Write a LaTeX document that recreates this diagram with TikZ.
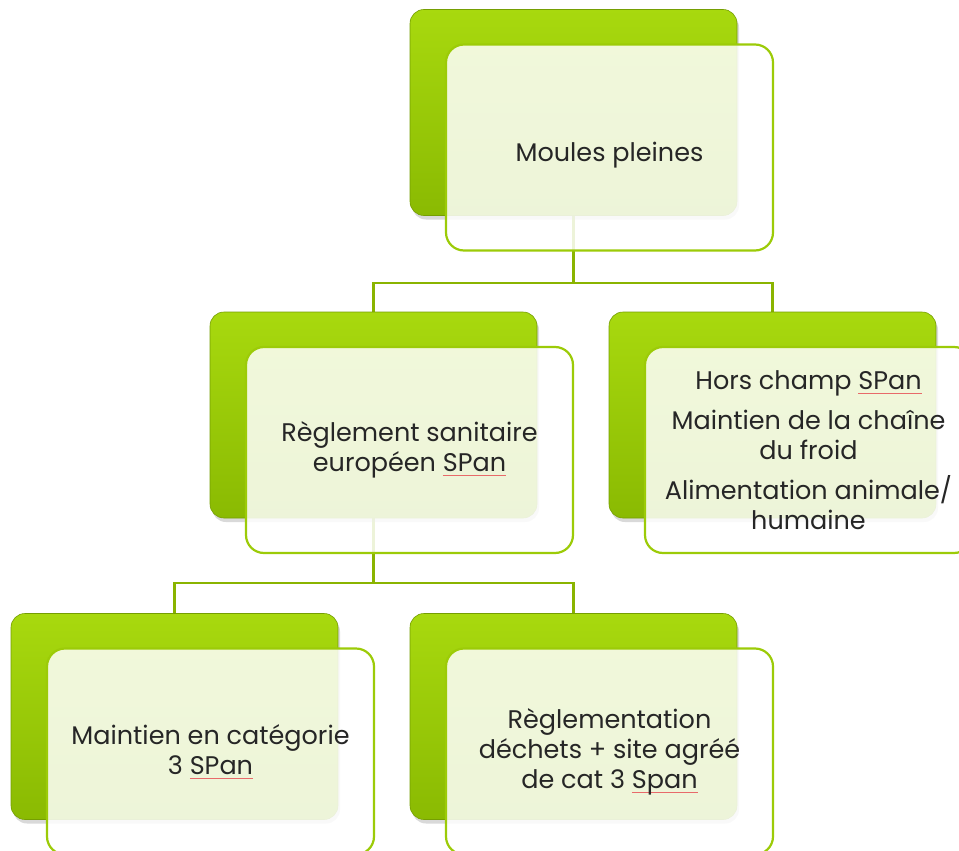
\documentclass[tikz,border=0pt]{standalone}
\usepackage{fontspec}
\setmainfont{Poppins}
\usetikzlibrary{shadows}

\definecolor{leafgreen}{HTML}{9CCB08}
\definecolor{leaftop}{HTML}{A8D90E}
\definecolor{leafbot}{HTML}{8ABA02}
\definecolor{linegreen}{HTML}{8AB400}
\definecolor{splred}{HTML}{E86A6A}

% spelling mark under a word
\newcommand\spl[1]{\setbox0\hbox{#1}\rlap{\textcolor{splred}{\rule[-0.3ex]{\wd0}{0.6pt}}}\box0}

\pgfdeclarelayer{bg}
\pgfsetlayers{bg,main}

\begin{document}
\begin{tikzpicture}[x=1pt, y=-1pt,
    backbox/.style={rounded corners=14pt, minimum width=327pt, minimum height=206pt, inner sep=0pt,
        top color=leaftop, bottom color=leafbot, draw=leafbot!85!black, line width=0.6pt,
        drop shadow={opacity=0.3, shadow xshift=2pt, shadow yshift=-4pt}},
    frontbox/.style={rounded corners=18pt, minimum width=327pt, minimum height=206pt, inner sep=0pt,
        draw=leafgreen, line width=2.2pt, fill=white, fill opacity=0.85, text opacity=1,
        align=center, text=black!85, font=\fontsize{25.5}{30}\selectfont,
        execute at begin node=\rule{0pt}{35pt}},
    link/.style={draw=linegreen, line width=2.4pt}]

        \clip (0,0) rectangle (959,851);

        % Define one entry: name, x, y, text
        \newcommand{\spbox}[4]{
            \node[backbox] (#1) at (#2,#3) {};
            \node[frontbox] (#1T) at ([shift={(36,35)}]#1) {#4};
        }

        \spbox{moules}{573.5}{112.5}{Moules pleines}
        \spbox{reglement}{373.5}{415}{Règlement sanitaire\\européen \spl{SPan}}
        \spbox{hors}{772.5}{415}{Hors champ \spl{SPan}\\[10pt]Maintien de la chaîne\\du froid\\[10pt]Alimentation animale/\\humaine}
        \spbox{categorie}{174.5}{716.5}{Maintien en catégorie\\3 \spl{SPan}}
        \spbox{dechets}{573.5}{716.5}{Règlementation\\déchets + site agréé\\de cat 3 \spl{Span}}

        % Links
        \begin{pgfonlayer}{bg}
            \coordinate (j1) at (moules.south |- 0,283);
            \coordinate (j2) at (reglement.south |- 0,583);
            \draw[link] (moules.south) -- (j1) -| (reglement.north);
            \draw[link] (j1) -| (hors.north);
            \draw[link] (reglement.south) -- (j2) -| (categorie.north);
            \draw[link] (j2) -| (dechets.north);
        \end{pgfonlayer}

\end{tikzpicture}
\end{document}
